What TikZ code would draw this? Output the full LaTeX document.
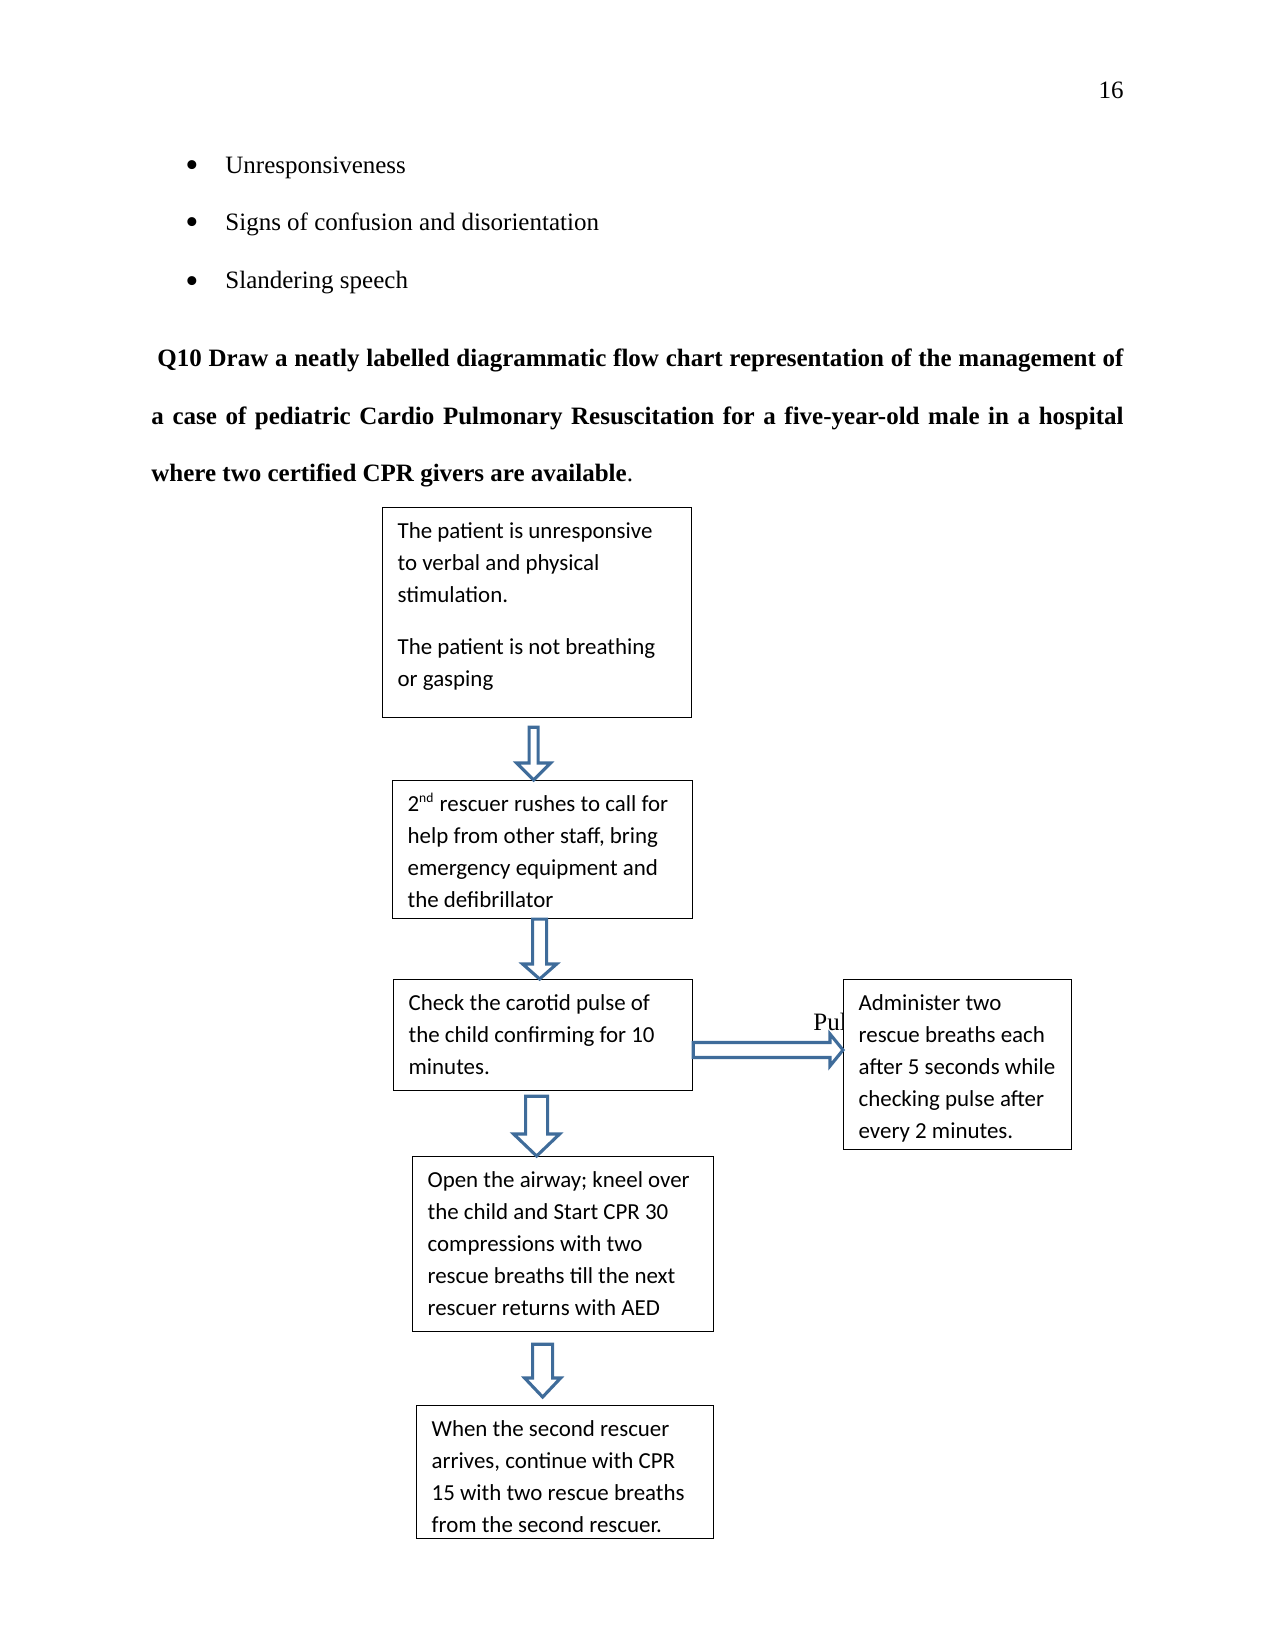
\documentclass[tikz,border=0pt]{standalone}
\usepackage{fontspec}
\setmainfont{Liberation Serif}
\newfontfamily\carlito{Carlito}
\usetikzlibrary{calc}
\definecolor{arrowblue}{HTML}{3F6C9A}

\newcommand{\flowdown}[5]{\draw[blockarrow] ($(#1)+(-#3,0)$) -- ($(#1)+(#3,0)$) -- ($(#2)+(#3,-#5)$) -- ($(#2)+(#4,-#5)$) -- (#2) -- ($(#2)+(-#4,-#5)$) -- ($(#2)+(-#3,-#5)$) -- cycle;}
\newcommand{\flowright}[5]{\draw[blockarrow] ($(#1)+(0,-#3)$) -- ($(#2)+(-#5,-#3)$) -- ($(#2)+(-#5,-#4)$) -- (#2) -- ($(#2)+(-#5,#4)$) -- ($(#2)+(-#5,#3)$) -- ($(#1)+(0,#3)$) -- cycle;}
\newcommand{\boxtext}[3]{\parbox[t][#2][t]{#1}{\raggedright\rule{0pt}{14.6pt}#3}}

\begin{document}
\begin{tikzpicture}[x=0.48pt,y=-0.48pt,
  bodytext/.style={inner sep=0pt,font=\fontsize{12pt}{14pt}\selectfont},
  flowbox/.style={draw,line width=0.6pt,fill=white,inner xsep=7.2pt,inner ysep=0pt,anchor=north west,font=\carlito\fontsize{11pt}{15.4pt}\selectfont},
  blockarrow/.style={draw=arrowblue,line width=1.5pt,fill=white,line join=miter}]
\fill[white] (0,0) rectangle (1275,1651);
\useasboundingbox (0,0) rectangle (1275,1651);

\node[bodytext,anchor=base east] (page) at (1124,99) {16};
\node[bodytext,anchor=base] (bl1) at (192,178) {\scalebox{1.5}{\textbullet}};
\node[bodytext,anchor=base west] (it1) at (225,174) {Unresponsiveness};
\node[bodytext,anchor=base] (bl2) at (192,235) {\scalebox{1.5}{\textbullet}};
\node[bodytext,anchor=base west] (it2) at (225,231) {Signs of confusion and disorientation};
\node[bodytext,anchor=base] (bl3) at (192,293) {\scalebox{1.5}{\textbullet}};
\node[bodytext,anchor=base west] (it3) at (225,289) {Slandering speech};

\node[bodytext,anchor=base west,font=\fontsize{12pt}{14pt}\selectfont\bfseries] (q1) at (157,366) {\makebox[463.7pt][s]{Q10 Draw a neatly labelled diagrammatic flow chart representation of the management of}};
\node[bodytext,anchor=base west,font=\fontsize{12pt}{14pt}\selectfont\bfseries] (q2) at (151,424) {\makebox[466.6pt][s]{a case of pediatric Cardio Pulmonary Resuscitation for a five-year-old male in a hospital}};
\node[bodytext,anchor=base west,font=\fontsize{12pt}{14pt}\selectfont\bfseries] (q3) at (151,481) {where two certified CPR givers are available\textmd{.}};

\node[flowbox] (b1) at (382,507) {\boxtext{133.9pt}{100.8pt}{The patient is unresponsive\\ to verbal and physical\\ stimulation.\\[9.6pt] The patient is not breathing\\ or gasping}};
\node[flowbox] (b2) at (392,780) {\boxtext{129.6pt}{66.2pt}{2\textsuperscript{\fontsize{6.5pt}{7pt}\selectfont nd} rescuer rushes to call for\\ help from other staff, bring\\ emergency equipment and\\ the defibrillator}};
\node[flowbox] (b3) at (393,979) {\boxtext{129.1pt}{53.3pt}{Check the carotid pulse of\\ the child confirming for 10\\ minutes.}};
\node[bodytext,anchor=base west] (pul) at (813,1030) {Pul};
\node[flowbox] (b4) at (843,979) {\boxtext{95pt}{81.6pt}{Administer two\\ rescue breaths each\\ \mbox{after 5 seconds while}\\ checking pulse after\\ every 2 minutes.}};
\node[flowbox] (b5) at (412,1156) {\boxtext{130.1pt}{84pt}{Open the airway; kneel over\\ the child and Start CPR 30\\ compressions with two\\ rescue breaths till the next\\ rescuer returns with AED}};
\node[flowbox] (b6) at (416,1405) {\boxtext{128.2pt}{63.8pt}{When the second rescuer\\ arrives, continue with CPR\\ 15 with two rescue breaths\\ from the second rescuer.}};

\coordinate (a1s) at ($(b1.south)+(-3.5,9)$);
\coordinate (a1e) at (a1s |- b2.north);
\coordinate (a2s) at ($(b2.south)+(-3,0)$);
\coordinate (a2e) at (a2s |- b3.north);
\coordinate (a3s) at ($(b3.south)+(-6.5,5)$);
\coordinate (a3e) at (a3s |- b5.north);
\coordinate (a4s) at ($(b5.south)+(-20.5,12)$);
\coordinate (a4e) at ($(a4s |- b6.north)+(0,-8)$);
\coordinate (ars) at ($(b3.north east)+(0,71)$);
\coordinate (are) at (ars -| b4.west);

\flowdown{a1s}{a1e}{4.5}{17}{17}
\flowdown{a2s}{a2e}{7}{17}{15}
\flowdown{a3s}{a3e}{11}{23}{22}
\flowdown{a4s}{a4e}{10}{18}{19}
\flowright{ars}{are}{7.5}{16}{13}
\end{tikzpicture}
\end{document}
